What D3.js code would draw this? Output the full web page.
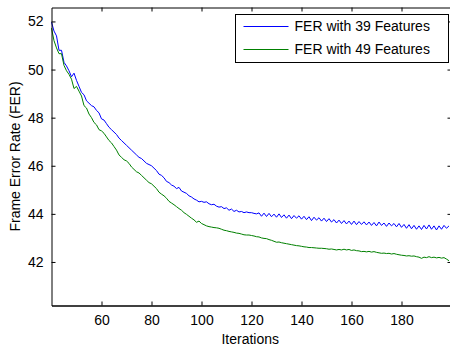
<!DOCTYPE html>
<html>
<head>
<meta charset="utf-8">
<script src="https://cdn.jsdelivr.net/npm/d3@7"></script>
<style>
  html, body { margin: 0; padding: 0; background: #fff; }
  svg { display: block; font-family: "Liberation Sans", Arial, sans-serif; }
</style>
</head>
<body>
<div id="chart"></div>
<script>
// iterations 40..199, one value per iteration
const iterations = d3.range(40, 200);

const fer39 = [
  51.97, 51.6, 51.4, 50.8, 50.8, 50.3, 50.15, 49.95, 49.7, 49.85,
  49.55, 49.3, 49.05, 48.95, 48.7, 48.6, 48.5, 48.45, 48.3, 48.2,
  47.95, 47.9, 47.75, 47.6, 47.5, 47.4, 47.3, 47.15, 47.05, 46.95,
  46.85, 46.75, 46.65, 46.55, 46.45, 46.35, 46.3, 46.2, 46.1, 46.05,
  46.0, 45.9, 45.8, 45.65, 45.6, 45.5, 45.35, 45.3, 45.2, 45.15,
  45.05, 45.1, 44.95, 44.9, 44.85, 44.75, 44.7, 44.62, 44.57, 44.5,
  44.52, 44.48, 44.5, 44.42, 44.38, 44.4, 44.32, 44.28, 44.3, 44.22,
  44.25, 44.15, 44.2, 44.1, 44.15, 44.08, 44.1, 44.05, 44.08, 44.05,
  44.05, 44.02, 44.0, 44.04, 43.9, 44.03, 43.89, 44.02, 43.88, 43.99,
  43.86, 44.0, 43.85, 43.96, 43.82, 43.95, 43.8, 43.93, 43.82, 43.92,
  43.78, 43.9, 43.76, 43.88, 43.72, 43.86, 43.74, 43.84, 43.7, 43.82,
  43.68, 43.8, 43.66, 43.76, 43.62, 43.74, 43.6, 43.72, 43.58, 43.7,
  43.56, 43.7, 43.55, 43.68, 43.56, 43.67, 43.54, 43.66, 43.52, 43.64,
  43.5, 43.66, 43.52, 43.62, 43.48, 43.62, 43.5, 43.6, 43.46, 43.6,
  43.44, 43.56, 43.4, 43.55, 43.38, 43.52, 43.36, 43.5, 43.35, 43.52,
  43.37, 43.54, 43.36, 43.5, 43.33, 43.5, 43.36, 43.52, 43.4, 43.5
];

const fer49 = [
  51.72, 51.2, 50.9, 50.66, 50.66, 50.17, 49.95, 49.8, 49.6, 49.21,
  49.3, 49.1, 48.9, 48.5, 48.4, 48.15, 48.0, 47.8, 47.7, 47.5,
  47.45, 47.35, 47.2, 47.05, 46.95, 46.8, 46.65, 46.45, 46.35, 46.25,
  46.2, 46.1, 45.95, 45.85, 45.75, 45.7, 45.6, 45.5, 45.4, 45.3,
  45.25, 45.15, 45.05, 44.9, 44.82, 44.75, 44.65, 44.52, 44.45, 44.38,
  44.3, 44.22, 44.15, 44.05, 43.98, 43.9, 43.82, 43.75, 43.65, 43.7,
  43.6, 43.55, 43.5, 43.47, 43.45, 43.43, 43.42, 43.4, 43.36, 43.32,
  43.3, 43.27, 43.25, 43.23, 43.2, 43.19, 43.16, 43.13, 43.12, 43.12,
  43.1, 43.08, 43.05, 43.04, 43.0, 42.98, 42.97, 42.93, 42.9, 42.86,
  42.82, 42.83, 42.8, 42.78, 42.76, 42.74, 42.72, 42.7, 42.68, 42.67,
  42.65, 42.63, 42.62, 42.6, 42.6, 42.59, 42.58, 42.57, 42.57, 42.56,
  42.55, 42.53, 42.54, 42.52, 42.5, 42.52, 42.5, 42.53, 42.5, 42.52,
  42.48, 42.5, 42.47, 42.46, 42.43, 42.44, 42.42, 42.44, 42.41, 42.43,
  42.4, 42.38, 42.36, 42.37, 42.35, 42.36, 42.33, 42.35, 42.32, 42.3,
  42.28, 42.27, 42.25, 42.26, 42.24, 42.25, 42.22, 42.2, 42.15, 42.2,
  42.18, 42.22, 42.18, 42.2, 42.17, 42.19, 42.16, 42.18, 42.12, 42.05
];

const seriesNames = ["FER with 39 Features", "FER with 49 Features"];
const seriesColors = ["#0000ff", "#008000"];
const xTicks = [60, 80, 100, 120, 140, 160, 180];
const yTicks = [42, 44, 46, 48, 50, 52];

const W = 450, H = 349;
const plot = { left: 51.5, right: 451.5, top: 7.5, bottom: 305.5 };

const svg = d3.select("#chart").append("svg")
  .attr("width", W).attr("height", H);

svg.append("rect").attr("width", W).attr("height", H).attr("fill", "#fff");

const x = d3.scaleLinear().domain([40, 200]).range([plot.left, plot.right]);
const y = d3.scaleLinear().domain([40.19, 52.58]).range([plot.bottom, plot.top]);

// lines
const line = d3.line()
  .x((d, i) => x(iterations[i]))
  .y(d => y(d));

[fer39, fer49].forEach((s, k) => {
  svg.append("path")
    .datum(s)
    .attr("fill", "none")
    .attr("stroke", seriesColors[k])
    .attr("stroke-width", 1)
    .attr("d", line);
});

// axes (MATLAB style box, ticks pointing inward)
const axisColor = "#000";
const fs = 14;

svg.append("g")
  .attr("transform", `translate(0,${plot.bottom})`)
  .call(d3.axisBottom(x).tickValues(xTicks).tickSizeInner(-4).tickSizeOuter(0).tickPadding(10))
  .call(g => g.select(".domain").attr("stroke-width", 1.5))
  .attr("font-family", null)
  .attr("font-size", fs)
  .attr("color", axisColor);

svg.append("g")
  .attr("transform", `translate(0,${plot.top})`)
  .call(d3.axisTop(x).tickValues(xTicks).tickSizeInner(-4).tickSizeOuter(0).tickFormat(""))
  .attr("color", axisColor);

svg.append("g")
  .attr("transform", `translate(${plot.left},0)`)
  .call(d3.axisLeft(y).tickValues(yTicks).tickSizeInner(-4).tickSizeOuter(0).tickPadding(8))
  .attr("font-family", null)
  .attr("font-size", fs)
  .attr("color", axisColor);

svg.append("g")
  .attr("transform", `translate(${plot.right},0)`)
  .call(d3.axisRight(y).tickValues(yTicks).tickSizeInner(-4).tickSizeOuter(0).tickFormat(""))
  .attr("color", axisColor);

// axis titles
svg.append("text")
  .attr("x", (plot.left + 449) / 2)
  .attr("y", 344)
  .attr("text-anchor", "middle")
  .attr("font-size", fs)
  .text("Iterations");

svg.append("text")
  .attr("transform", `translate(20,${(plot.top + plot.bottom) / 2}) rotate(-90)`)
  .attr("text-anchor", "middle")
  .attr("font-size", fs)
  .text("Frame Error Rate (FER)");

// legend
const lg = svg.append("g").attr("transform", "translate(235.5,14.5)");
lg.append("rect")
  .attr("width", 213).attr("height", 48)
  .attr("fill", "#fff").attr("stroke", "#000").attr("stroke-width", 1);

seriesNames.forEach((name, i) => {
  const cy = 12 + i * 23;
  lg.append("line")
    .attr("x1", 8).attr("x2", 53)
    .attr("y1", cy).attr("y2", cy)
    .attr("stroke", seriesColors[i]).attr("stroke-width", 1);
  lg.append("text")
    .attr("x", 59).attr("y", cy)
    .attr("dy", "0.35em")
    .attr("font-size", fs)
    .text(name);
});
</script>
</body>
</html>
